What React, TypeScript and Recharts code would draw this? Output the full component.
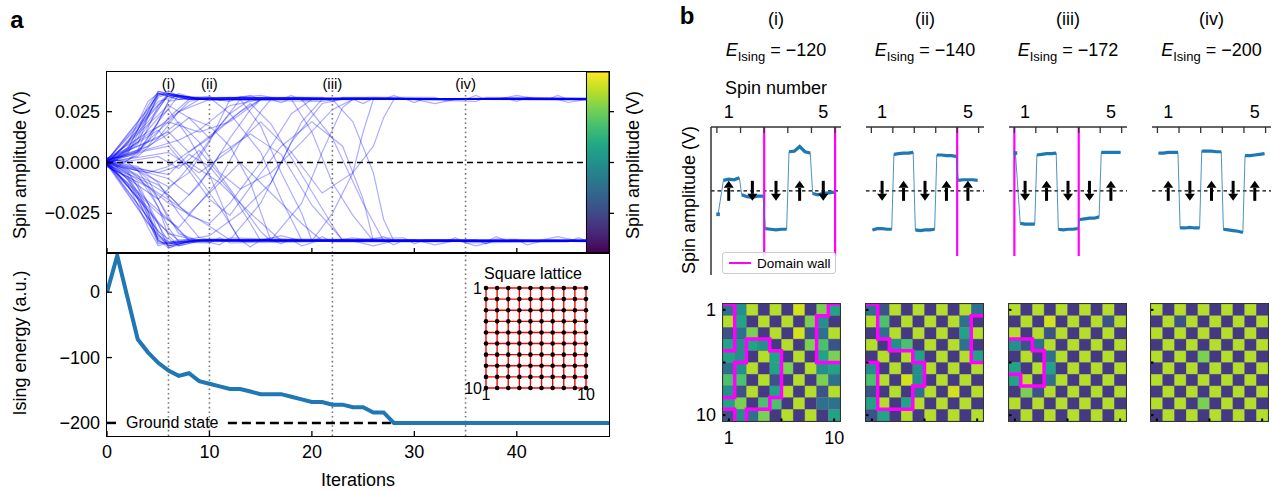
import React from 'react'
import {
  LineChart, Line, XAxis, YAxis, ReferenceLine, ReferenceArea,
  ComposedChart, Scatter, ScatterChart,
} from 'recharts'

const FONT = '"Liberation Sans", Arial, Helvetica, sans-serif'
const BLUE = '#1f77b4'
const MAGENTA = '#ff00ff'

// ---------- panel a ----------
const MARK_ITERS = [6, 10, 22, 35]
const MARK_NAMES = ['(i)', '(ii)', '(iii)', '(iv)']
const MARK_ENERGY = [-120, -140, -172, -200]

// Ising energy per iteration (0..49)
const ENERGY = [
  0, 56, -8, -72, -92, -108, -120, -128, -124, -136,
  -140, -144, -148, -148, -152, -156, -156, -156, -160, -164,
  -168, -168, -172, -172, -176, -176, -184, -184, -200, -200,
  -200, -200, -200, -200, -200, -200, -200, -200, -200, -200,
  -200, -200, -200, -200, -200, -200, -200, -200, -200, -200,
]

// spin amplitude traces, [iteration, mV] keyframes
const TRACES: number[][][] = [
  // settle up
  [[0, 1], [1, 3], [3, 12], [5, 33], [6, 35], [8, 31], [12, 32], [16, 31], [24, 31.5], [30, 31], [40, 32], [46.8, 31]],
  [[0, -1], [1, 2], [3, 9], [4, 22], [5, 34], [7, 33], [9, 31], [20, 31], [26, 32], [34, 31], [46.8, 31]],
  [[0, 2], [2, 7], [4, 25], [5, 35], [7, 32], [10, 31], [15, 33], [17, 31], [46.8, 31]],
  [[0, 0], [2, 4], [3, 14], [5, 32], [6, 34], [9, 31], [21, 30], [23, 31.5], [46.8, 31]],
  [[0, 1], [2, 1], [4, 10], [6, 30], [7, 34], [9, 31], [38, 31], [40, 33], [42, 31], [46.8, 31]],
  [[0, -2], [2, 5], [4, 18], [6, 34], [8, 32], [46.8, 31]],
  [[0, 1], [3, 5], [5, 20], [7, 33], [9, 31.5], [30, 31], [32, 29], [34, 31], [46.8, 31]],
  [[0, 0], [1, 4], [3, 16], [4, 28], [5, 35], [6, 34], [8, 31], [13, 32], [46.8, 31]],
  [[0, 2], [2, 3], [4, 8], [6, 22], [8, 31], [11, 32], [46.8, 31]],
  [[0, -1], [3, 6], [5, 28], [6, 33], [9, 31], [19, 32], [21, 31], [46.8, 31]],
  [[0, 1], [2, 9], [4, 30], [5, 34], [7, 31], [46.8, 31.5]],
  [[0, 0], [3, 3], [5, 12], [7, 25], [9, 31], [46.8, 31]],
  [[0, 1], [1, -2], [3, 4], [5, 20], [6, 30], [8, 32], [44, 31], [45, 29.5], [46.8, 31]],
  [[0, -1], [2, 6], [3, 16], [5, 34], [8, 31], [46.8, 31]],
  // settle down
  [[0, -1], [1, -3], [3, -14], [5, -38], [6, -42], [8, -38.5], [46.8, -38.5]],
  [[0, 1], [2, -4], [4, -20], [5, -35], [6, -41], [9, -38], [14, -39], [16, -37], [20, -38.5], [46.8, -38.5]],
  [[0, 0], [2, -8], [4, -28], [5, -40], [7, -39], [10, -38], [24, -38.5], [26, -41], [28, -38.5], [46.8, -38]],
  [[0, -2], [1, -5], [3, -18], [5, -39], [6, -40], [8, -38], [46.8, -38.5]],
  [[0, 1], [3, -6], [5, -22], [6, -36], [7, -41], [9, -38.5], [34, -38], [36, -41], [38, -38.5], [46.8, -38.5]],
  [[0, 0], [2, -3], [4, -12], [6, -32], [7, -39], [10, -38], [46.8, -38]],
  [[0, -1], [2, -10], [4, -32], [5, -41], [7, -38], [15, -38.5], [17, -36], [19, -38.5], [46.8, -38.5]],
  [[0, 2], [2, 0], [4, -8], [6, -28], [8, -38], [46.8, -38.5]],
  [[0, -1], [3, -10], [5, -30], [6, -42], [8, -39], [30, -38], [32, -40.5], [34, -38.5], [46.8, -38.5]],
  [[0, 1], [1, -1], [3, -4], [5, -18], [7, -35], [9, -38.5], [46.8, -38.5]],
  [[0, -1], [2, -6], [4, -24], [5, -39], [7, -40], [9, -38], [42, -38.5], [44, -36.5], [46, -38.5], [46.8, -38.5]],
  [[0, 0], [2, -5], [3, -12], [5, -36], [6, -39], [10, -38.5], [46.8, -38]],
  [[0, 1], [3, -2], [5, -10], [7, -25], [9, -37], [11, -38.5], [46.8, -38.5]],
  [[0, -2], [2, -7], [4, -26], [5, -38], [6, -41], [9, -38], [22, -38.5], [24, -37], [26, -38.5], [46.8, -38.5]],
  // wandering / flipping spins
  [[0, 1], [3, 10], [5, 22], [6, 26], [8, 12], [10, -6], [12, -30], [13, -38.5], [46.8, -38.5]],
  [[0, -1], [4, -10], [6, -16], [8, -26], [10, -30], [12, -20], [15, 0], [18, 24], [20, 31], [46.8, 31]],
  [[0, 1], [3, 6], [6, 20], [8, 30], [10, 32], [12, 24], [15, 5], [17, -18], [19, -38], [46.8, -38.5]],
  [[0, -1], [4, -5], [6, -2], [9, 9], [12, 21], [14, 29], [16, 19], [19, -6], [22, -31], [23, -38.5], [46.8, -38.5]],
  [[0, 0], [5, -11], [7, -21], [9, -11], [11, 4], [14, 14], [17, 4], [20, -21], [23, -38], [46.8, -38.5]],
  [[0, 1], [5, 8], [7, 11], [9, 16], [12, 28], [15, 31], [19, 31], [22, 12], [25, -20], [27, -38.5], [46.8, -38.5]],
  [[0, -1], [6, -28], [8, -38.5], [12, -38], [15, -20], [17, 0], [19, 20], [21, 31], [46.8, 31]],
  [[0, 0], [6, -35], [9, -38.5], [16, -38], [19, -20], [21, 5], [23, 27], [24, 31], [46.8, 31]],
  [[0, 2], [5, 12], [7, 20], [9, 10], [11, -5], [13, -13], [16, -5], [19, 10], [22, 26], [24, 31], [46.8, 31]],
  [[0, -1], [5, 28], [6, 33], [10, 31], [18, 31], [20, 15], [22, -10], [24, -26], [26, -38.5], [46.8, -38.5]],
  [[0, 1], [5, -15], [8, -25], [10, -15], [13, 0], [16, -15], [19, -30], [21, -38.5], [46.8, -38.5]],
  [[0, 0], [6, 5], [9, -5], [12, 6], [15, 20], [18, 5], [21, -15], [24, -5], [26, 8], [27, 22], [28, 31], [46.8, 31]],
  [[0, -1], [7, 25], [10, 31], [22, 31], [24, 20], [26, -5], [27, -28], [28, -38.5], [46.8, -38.5]],
  [[0, 1], [5, -30], [7, -38.5], [10, -36], [13, -25], [16, -10], [18, 10], [21, 29], [23, 31], [46.8, 31]],
  [[0, -2], [4, -12], [6, -20], [9, -28], [12, -38], [46.8, -38.5]],
  [[0, 2], [4, 15], [6, 20], [9, 15], [12, 20], [15, 31], [46.8, 31]],
  [[0, 0], [5, -5], [8, 0], [11, -10], [14, -25], [17, -38.5], [46.8, -38.5]],
  [[0, 1], [6, 15], [8, 5], [10, 12], [13, 25], [15, 31], [46.8, 31]],
  [[0, -1], [5, -25], [7, -32], [9, -20], [11, -8], [13, 10], [15, 25], [16, 31], [46.8, 31]],
  [[0, 1], [6, 34], [9, 31], [13, 31], [15, 18], [17, -5], [19, -25], [20, -38.5], [46.8, -38.5]],
  [[0, 0], [4, 6], [6, 8], [8, -4], [10, -18], [12, -26], [14, -12], [17, 8], [20, 20], [23, 8], [25, -18], [26, -38.5], [46.8, -38.5]],
  [[0, -1], [6, -40], [9, -38.5], [20, -38.5], [22, -25], [24, -5], [25, 15], [26, 31], [46.8, 31]],
  [[0, 1], [4, -4], [6, -6], [8, 4], [10, -2], [12, -14], [14, -30], [15, -38.5], [46.8, -38.5]],
  [[0, 0], [3, -4], [6, -12], [8, -5], [10, 10], [12, 31], [46.8, 31]],
  [[0, 1], [4, 8], [6, 14], [8, 22], [10, 18], [12, 8], [14, -10], [16, -38.5], [46.8, -38.5]],
  [[0, -1], [5, -18], [7, -8], [9, 4], [11, 18], [13, 31], [46.8, 31]],
  [[0, 0], [5, 16], [7, 4], [9, -8], [11, -22], [13, -38.5], [46.8, -38.5]],
  [[0, 1], [6, -8], [8, -16], [10, -4], [12, 12], [14, 26], [15, 31], [46.8, 31]],
  [[0, -1], [5, 3], [7, -3], [9, 6], [11, -6], [13, -20], [15, -34], [16, -38.5], [46.8, -38.5]],
  [[0, 0], [6, 28], [8, 22], [10, 12], [12, 24], [14, 31], [46.8, 31]],
  // band jitter
  [[0, 1], [4, 26], [5, 34], [7, 31], [10, 32.5], [11, 30.5], [14, 33], [15, 31], [27, 31], [28, 33], [29, 31], [36, 30], [37, 32], [46.8, 31.5]],
  [[0, -1], [4, -30], [6, -41], [9, -38], [11, -40.5], [12, -37], [18, -38], [19, -41], [21, -38], [29, -37], [30, -40], [31, -38], [40, -38], [41, -40.5], [43, -38], [46.8, -38.5]],
  [[0, 0], [5, -37], [6, -40], [8, -38.5], [13, -38], [14, -41.5], [15, -38], [25, -38.5], [27, -36.5], [28, -38.5], [37, -39], [38, -36.5], [39, -38.5], [46.8, -38]],
  [[0, 1], [5, 33], [6, 34], [8, 31], [17, 31], [18, 33], [19, 30.5], [24, 31], [25, 29], [26, 31.5], [43, 31], [44, 33], [45, 31], [46.8, 31]],
  [[0, 0], [4, 20], [6, 33], [9, 32], [12, 30], [13, 32], [21, 32], [22, 30], [23, 32], [32, 32], [33, 30.5], [39, 31.5], [40, 30], [41, 32], [46.8, 31.5]],
  [[0, -1], [4, -22], [6, -39], [10, -39.5], [11, -37], [12, -39.5], [20, -39], [21, -36.5], [22, -39], [33, -39], [34, -37], [35, -39.5], [45, -39], [46, -37], [46.8, -38.5]],
  [[0, 1], [5, 30], [7, 33], [10, 30.5], [16, 31], [17, 29.5], [18, 31.5], [29, 31.5], [30, 29.5], [31, 31.5], [35, 31], [36, 33], [37, 31], [46.8, 30.5]],
  [[0, 0], [5, -34], [7, -41], [10, -37.5], [16, -38], [17, -40], [18, -37.5], [27, -38], [28, -40.5], [29, -38], [36, -38], [37, -40], [38, -37.5], [46.8, -39]],
]

// ---------- panel b ----------
// first five spins (mV samples per spin) at (i)..(iv)
const SPIN_SAMPLES: number[][][] = [
  [[-18, 8, 9, 8.5, 10], [-3, -4.5, -5, -4, -4], [-29, -29.5, -30, -29.5, -29.5], [30, 30.5, 34, 30, 29], [-2, -3, -2, -1.5, -1]],
  [[-30, -29, -29, -29.5, -29.5], [28, 28.5, 29, 29, 29.5], [-30, -30.5, -30, -30, -29.5], [27.5, 27.5, 27, 27, 26.5], [8, 8.5, 8.5, 8.5, 8]],
  [[29, -25, -25.5, -25.5, -25.5], [27.5, 28, 28.5, 28.5, 29], [-29.5, -30, -29.5, -29.5, -29], [-22, -21.5, -21, -21, -20], [29.5, 29.5, 29.5, 29.5, 29.5]],
  [[29, 29, 29.5, 29.5, 29.5], [-28.5, -28.5, -28, -28.5, -28.5], [30.5, 30.5, 30.5, 30, 30], [-29.5, -30, -30.5, -31, -32], [27, 27, 27.5, 28, 28.5]],
]
// columns whose first sample is a lone outlier before the plateau
const SPIN_SPIKE = [true, false, true, false]
const SPIN_DIRS = [[1, -1, -1, 1, -1], [-1, 1, -1, 1, 1], [-1, 1, -1, -1, 1], [1, -1, 1, -1, 1]]
const SPIN_WALLS = [[2.5, 5.5], [4.5], [0.5, 3.5], []]

// 10x10 spin maps, colour level 0 (purple) .. 9 (yellow)
const HEATS = [
  ['3481819175', '8518181741', '2371819238', '5454181762', '5418518157',
    '3481571845', '6618218173', '4281581828', '5716618133', '2437181815'],
  ['3281818183', '8618181831', '1381818158', '8146181831', '1818518185',
    '4181481818', '6819418181', '2181381918', '5815818181', '2518181818'],
  ['8181818181', '1819181828', '8182818181', '4238181818', '1813818181',
    '5185181818', '5813818181', '1728181818', '8181818181', '1818181818'],
  ['8181818181', '1828181818', '8181818181', '1818181818', '8181718181',
    '1818181818', '8181818181', '1818181818', '8181718181', '1818181818'],
]
// domain walls along cell edges (0..10, row 0 at the top)
const WALLS: number[][][][] = [
  [
    [[0, 0], [1, 0], [1, 4], [0, 4]],
    [[0, 8], [1, 8], [1, 5], [2, 5], [2, 3], [4, 3], [4, 4], [5, 4], [5, 8], [4, 8], [4, 9], [2, 9], [2, 10]],
    [[0, 9], [1, 9], [1, 10]],
    [[10, 0], [9, 0], [9, 1], [8, 1], [8, 5], [10, 5]],
  ],
  [
    [[0, 0], [1, 0], [1, 3], [2, 3], [2, 4], [4, 4], [4, 5], [5, 5], [5, 7], [4, 7], [4, 9], [1, 9], [1, 5], [0, 5]],
    [[10, 1], [9, 1], [9, 5], [10, 5]],
  ],
  [[[0, 3], [2, 3], [2, 4], [3, 4], [3, 7], [1, 7], [1, 6], [0, 6]]],
  [],
]

const LATTICE_N = 10

// ---------- styling / layout ----------
const VIRIDIS = ['#440154', '#482475', '#414487', '#355f8d', '#2a788e', '#21918c', '#22a884', '#44bf70', '#7ad151', '#bddf26', '#fde725']
const PAL = ['#46085c', '#443983', '#3b528b', '#2c728e', '#21918c', '#20a486', '#4ac16d', '#7ad151', '#b5de2b', '#d2e21b']

const A_L = 107, A_R = 609, A_T = 72, A_M = 253, A_B = 436
const AMP = 0.0445
const SPIN_COLS = [[711, 841], [866, 984], [1009, 1127], [1152, 1271]]
const HEAT_X = [723, 866, 1009, 1151]
const HEAT_Y = 304
const HEAT_S = 117
const SPIN_TOP = 0.049, SPIN_BOT = -0.0646

const fmtV = (v: number) => (v < 0 ? '\u2212' : '') + Math.abs(v).toFixed(3)
const fmtE = (v: number) => (v < 0 ? '\u2212' : '') + Math.abs(v)

const txt = { fontFamily: FONT, fill: '#000' }

function LeftTick(p: any) {
  return (
    <g>
      <line x1={p.x} x2={p.x + 5} y1={p.y} y2={p.y} stroke="#000" strokeWidth={1.3} />
      <text x={p.x - 7} y={p.y} textAnchor="end" dominantBaseline="central" fontSize={18} {...txt}>{p.fmt(p.payload.value)}</text>
    </g>
  )
}
function RightTick(p: any) {
  return <line x1={p.x} x2={p.x + 5} y1={p.y} y2={p.y} stroke="#000" strokeWidth={1.3} />
}
function BottomTick(p: any) {
  return (
    <g>
      <line x1={p.x} x2={p.x} y1={p.y} y2={p.y - 5} stroke="#000" strokeWidth={1.3} />
      {p.show && (
        <text x={p.x} y={p.y + 9} textAnchor="middle" dominantBaseline="hanging" fontSize={18} {...txt}>{p.payload.value}</text>
      )}
    </g>
  )
}
function SpinTick(p: any) {
  const v = p.payload.value
  if (v % 1 !== 0) return <line x1={p.x} x2={p.x} y1={p.y} y2={p.y + 6} stroke="#333" strokeWidth={1.3} />
  if (v === 1 || v === 5) {
    return <text x={p.x} y={p.y - 9} textAnchor="middle" fontSize={18} {...txt}>{v}</text>
  }
  return <g />
}
function HeatTick(p: any) {
  const v = p.payload.value
  const lab = p.show && v !== 5.5
  if (p.side === 'left') {
    return (
      <g>
        <line x1={p.x} x2={p.x + 2.5} y1={p.y} y2={p.y} stroke="#000" strokeWidth={2} />
        {lab && <text x={p.x - 7} y={p.y} textAnchor="end" dominantBaseline="central" fontSize={18} {...txt}>{v}</text>}
      </g>
    )
  }
  return (
    <g>
      <line x1={p.x} x2={p.x} y1={p.y} y2={p.y - 2.5} stroke="#000" strokeWidth={2} />
      {lab && <text x={p.x} y={p.y + 10} textAnchor="middle" dominantBaseline="hanging" fontSize={18} {...txt}>{v}</text>}
    </g>
  )
}
function LatticeTick(p: any) {
  if (p.side === 'left') {
    return <text x={p.x - 4} y={p.y} textAnchor="end" dominantBaseline="central" fontSize={16} {...txt}>{p.payload.value}</text>
  }
  return <text x={p.x} y={p.y + 1} textAnchor="middle" dominantBaseline="hanging" fontSize={16} {...txt}>{p.payload.value}</text>
}

function Arrow(p: any) {
  const { cx, cy } = p
  const d = p.payload.dir
  const tip = cy - d * 10
  const base = tip + d * 7
  return (
    <g>
      <line x1={cx} x2={cx} y1={cy + d * 10} y2={base} stroke="#000" strokeWidth={3} />
      <polygon points={`${cx},${tip} ${cx - 5},${base} ${cx + 5},${base}`} fill="#000" />
    </g>
  )
}

const cellPx = HEAT_S / 10
function HeatCell(p: any) {
  return (
    <rect x={p.cx - cellPx / 2} y={p.cy - cellPx / 2} width={cellPx} height={cellPx}
      fill={PAL[p.payload.v]} stroke="#555" strokeOpacity={0.5} strokeWidth={0.5} />
  )
}

function Abs({ left, top, children, style }: any) {
  return <div style={{ position: 'absolute', left, top, ...style }}>{children}</div>
}
function Label({ cx, cy, size = 18, rotate = 0, bold = false, children }: any) {
  return (
    <div style={{
      position: 'absolute', left: cx, top: cy, transform: `translate(-50%, -50%) rotate(${rotate}deg)`,
      whiteSpace: 'nowrap', fontSize: size, lineHeight: 1, fontWeight: bold ? 700 : 400, color: '#000',
    }}>{children}</div>
  )
}
function Frame({ x0, y0, x1, y1, w = 1.5, color = '#000' }: any) {
  return (
    <div style={{
      position: 'absolute', left: x0 - w / 2, top: y0 - w / 2, width: x1 - x0 + w, height: y1 - y0 + w,
      border: `${w}px solid ${color}`, boxSizing: 'border-box', pointerEvents: 'none',
    }} />
  )
}

// axes are 1px thick; margins are reduced by that so the plot box stays put
function SpinTopChart() {
  const traces = TRACES.map((t) => t.map(([x, mv]) => ({ x, y: mv / 1000 })))
  return (
    <LineChart width={660} height={262} margin={{ top: A_T, left: A_L - 1, right: 660 - A_R - 1, bottom: 262 - A_M - 1 }}>
      <defs>
        <linearGradient id="viridis" x1="0" y1="1" x2="0" y2="0">
          {VIRIDIS.map((c, i) => <stop key={i} offset={i / 10} stopColor={c} />)}
        </linearGradient>
      </defs>
      <XAxis type="number" dataKey="x" domain={[0, 49]} ticks={[0, 10, 20, 30, 40]} height={1}
        axisLine={false} tickLine={false} tickSize={0} tickMargin={0} allowDataOverflow interval={0}
        tick={(p: any) => <BottomTick {...p} show={false} />} />
      <YAxis type="number" domain={[-AMP, AMP]} ticks={[-0.025, 0, 0.025]} width={1} allowDataOverflow interval={0}
        axisLine={false} tickLine={false} tickSize={0} tickMargin={0}
        tick={(p: any) => <LeftTick {...p} fmt={fmtV} />} />
      <YAxis yAxisId="cb" orientation="right" type="number" domain={[-AMP, AMP]} ticks={[-0.025, 0, 0.025]} width={1}
        allowDataOverflow interval={0} axisLine={false} tickLine={false} tickSize={0} tickMargin={0}
        tick={(p: any) => <RightTick {...p} />} />
      {traces.map((d, i) => (
        <Line key={i} data={d} dataKey="y" type="linear" stroke="#0000ff" strokeOpacity={0.32} strokeWidth={1.2}
          dot={false} isAnimationActive={false} />
      ))}
      <ReferenceLine segment={[{ x: 0, y: 0 }, { x: 46.8, y: 0 }]} stroke="#000" strokeWidth={1.6} strokeDasharray="6 4" />
      {MARK_ITERS.map((it) => (
        <ReferenceLine key={it} segment={[{ x: it, y: 0.0355 }, { x: it, y: -AMP }]} stroke="#777" strokeWidth={1.6} strokeDasharray="1.6 3" />
      ))}
      <ReferenceArea x1={46.8} x2={49} y1={-AMP} y2={AMP} fill="url(#viridis)" fillOpacity={1} stroke="#000" strokeWidth={1} />
    </LineChart>
  )
}

function EnergyChart() {
  const rows = ENERGY.map((e, i) => ({ x: i, e }))
  return (
    <LineChart width={660} height={251} data={rows} margin={{ top: A_M - 240, left: A_L - 1, right: 660 - A_R, bottom: 251 - (A_B - 240) - 1 }}>
      <XAxis type="number" dataKey="x" domain={[0, 49]} ticks={[0, 10, 20, 30, 40]} height={1}
        axisLine={false} tickLine={false} tickSize={0} tickMargin={0} allowDataOverflow interval={0}
        tick={(p: any) => <BottomTick {...p} show />} />
      <YAxis type="number" domain={[-220, 60]} ticks={[-200, -100, 0]} width={1} allowDataOverflow interval={0}
        axisLine={false} tickLine={false} tickSize={0} tickMargin={0}
        tick={(p: any) => <LeftTick {...p} fmt={fmtE} />} />
      {MARK_ITERS.map((it) => (
        <ReferenceLine key={it} x={it} stroke="#777" strokeWidth={1.6} strokeDasharray="1.6 3" />
      ))}
      <ReferenceLine segment={[{ x: 0, y: -200 }, { x: 1.1, y: -200 }]} stroke="#000" strokeWidth={2.5} strokeDasharray="9 5" />
      <ReferenceLine segment={[{ x: 11.8, y: -200 }, { x: 27.8, y: -200 }]} stroke="#000" strokeWidth={2.5} strokeDasharray="9 5" />
      <Line dataKey="e" type="linear" stroke={BLUE} strokeWidth={4} dot={false} isAnimationActive={false} />
    </LineChart>
  )
}

function LatticeInset() {
  const idx = Array.from({ length: LATTICE_N }, (_, i) => i + 1)
  const nodes = idx.flatMap((r) => idx.map((c) => ({ x: c, y: r })))
  return (
    <ScatterChart width={170} height={160} margin={{ left: 45, right: 24, top: 28, bottom: 31 }}>
      <XAxis type="number" dataKey="x" domain={[1, 10]} ticks={[1, 10]} height={1} axisLine={false} tickLine={false}
        tickSize={0} tickMargin={0} interval={0} tick={(p: any) => <LatticeTick {...p} side="bottom" />} />
      <YAxis type="number" dataKey="y" domain={[1, 10]} ticks={[1, 10]} reversed width={1} axisLine={false} tickLine={false}
        tickSize={0} tickMargin={0} interval={0} tick={(p: any) => <LatticeTick {...p} side="left" />} />
      {idx.map((k) => <ReferenceLine key={'v' + k} x={k} stroke="#ff0000" strokeWidth={1.4} />)}
      {idx.map((k) => <ReferenceLine key={'h' + k} y={k} stroke="#ff0000" strokeWidth={1.4} />)}
      <Scatter data={nodes} fill="#000" isAnimationActive={false}
        shape={(p: any) => <circle cx={p.cx} cy={p.cy} r={2.3} fill="#000" />} />
    </ScatterChart>
  )
}

function SpinPanel({ k }: { k: number }) {
  const [x0, x1] = SPIN_COLS[k]
  const rows: any[] = []
  const spikes: any[] = []
  SPIN_SAMPLES[k].forEach((samples, i) => {
    const n = i + 1
    samples.forEach((mv, j) => {
      const x = n - 0.45 + j * 0.225
      const lone = SPIN_SPIKE[k] && i === 0 && j === 0
      rows.push({ x, thin: mv / 1000, thick: lone ? null : mv / 1000 })
      if (lone) spikes.push({ x, y: mv / 1000 })
    })
    rows.push({ x: n + 0.5, thin: null, thick: null })
  })
  const arrows = SPIN_DIRS[k].map((dir, i) => ({ x: i + 1, y: 0, dir }))
  return (
    <ComposedChart width={x1 - x0 + 24} height={190} margin={{ top: 31, bottom: 10, left: 11, right: 12 }}>
      <XAxis type="number" dataKey="x" orientation="top" domain={[0.25, 5.75]} height={1} allowDataOverflow interval={0}
        ticks={[0.5, 1, 1.5, 2, 2.5, 3, 3.5, 4, 4.5, 5, 5.5]} tickSize={0} tickMargin={0} tickLine={false}
        axisLine={{ stroke: '#333', strokeWidth: 1.5 }} tick={(p: any) => <SpinTick {...p} />} />
      <YAxis type="number" domain={[SPIN_BOT, SPIN_TOP]} width={1} allowDataOverflow
        axisLine={k === 0 ? { stroke: '#333', strokeWidth: 1.5 } : false} tick={false} tickLine={false} />
      <ReferenceLine y={0} stroke="#000" strokeWidth={1.3} strokeDasharray="3.5 3" />
      {SPIN_WALLS[k].map((w) => (
        <ReferenceLine key={w} segment={[{ x: w, y: SPIN_TOP - 0.0002 }, { x: w, y: -0.05 }]} stroke={MAGENTA} strokeWidth={2.2} />
      ))}
      <Line data={rows} dataKey="thin" type="linear" connectNulls stroke={BLUE} strokeOpacity={0.8} strokeWidth={1}
        dot={false} isAnimationActive={false} />
      <Line data={rows} dataKey="thick" type="linear" stroke={BLUE} strokeWidth={3.2} dot={false} isAnimationActive={false} />
      <Scatter data={spikes} dataKey="y" fill={BLUE} isAnimationActive={false}
        shape={(p: any) => <rect x={p.cx - 1.8} y={p.cy - 1.8} width={3.6} height={3.6} fill={BLUE} />} />
      <Scatter data={arrows} dataKey="y" fill="#000" shape={(p: any) => <Arrow {...p} />} isAnimationActive={false} />
    </ComposedChart>
  )
}

function HeatPanel({ k }: { k: number }) {
  const cells = HEATS[k].flatMap((row, r) => row.split('').map((ch, c) => ({ x: c + 1, y: r + 1, v: Number(ch) })))
  return (
    <ScatterChart width={HEAT_S + 44} height={180} margin={{ left: 31, right: 12, top: 24, bottom: 180 - 24 - HEAT_S - 1 }}>
      <XAxis type="number" dataKey="x" domain={[0.5, 10.5]} ticks={[1, 5.5, 10]} height={1} allowDataOverflow interval={0}
        axisLine={false} tickLine={false} tickSize={0} tickMargin={0}
        tick={(p: any) => <HeatTick {...p} side="bottom" show={k === 0} />} />
      <YAxis type="number" dataKey="y" domain={[0.5, 10.5]} ticks={[1, 5.5, 10]} reversed width={1} allowDataOverflow interval={0}
        axisLine={false} tickLine={false} tickSize={0} tickMargin={0}
        tick={(p: any) => <HeatTick {...p} side="left" show={k === 0} />} />
      <Scatter data={cells} shape={(p: any) => <HeatCell {...p} />} isAnimationActive={false} />
      {WALLS[k].map((w, i) => (
        <Scatter key={i} data={w.map(([ex, ey]) => ({ x: ex + 0.5, y: ey + 0.5 }))} fill={MAGENTA}
          line={{ stroke: MAGENTA, strokeWidth: 3.5 }} shape={() => <g />} isAnimationActive={false} />
      ))}
    </ScatterChart>
  )
}

export default function App() {
  const iterX = (it: number) => A_L + (it * (A_R - A_L)) / 49
  return (
    <div style={{ position: 'absolute', left: 0, top: 0, width: 1272, height: 491, overflow: 'hidden', background: '#fff', fontFamily: FONT }}>
      <Abs left={0} top={0}><SpinTopChart /></Abs>
      <Abs left={0} top={240}><EnergyChart /></Abs>
      <Abs left={440} top={260}><LatticeInset /></Abs>
      <Frame x0={A_L} y0={A_T} x1={A_R} y1={A_M} />
      <Frame x0={A_L} y0={A_M} x1={A_R} y1={A_B} />

      <Label cx={17} cy={20} size={24} bold>a</Label>
      <Label cx={20} cy={165} rotate={-90}>Spin amplitude (V)</Label>
      <Label cx={20} cy={343} rotate={-90}>Ising energy (a.u.)</Label>
      <Label cx={633} cy={165} rotate={-90}>Spin amplitude (V)</Label>
      <Label cx={358} cy={480}>Iterations</Label>
      <Label cx={533} cy={274} size={16}>Square lattice</Label>
      <div style={{ position: 'absolute', left: 126, top: 423, transform: 'translateY(-50%)', fontSize: 16, lineHeight: 1 }}>Ground state</div>
      {MARK_ITERS.map((it, i) => (
        <Label key={it} cx={iterX(it)} cy={83} size={15}>{MARK_NAMES[i]}</Label>
      ))}

      {SPIN_COLS.map((c, k) => (
        <Abs key={'s' + k} left={c[0] - 12} top={95}><SpinPanel k={k} /></Abs>
      ))}
      {HEAT_X.map((hx, k) => (
        <Abs key={'h' + k} left={hx - 32} top={HEAT_Y - 24}><HeatPanel k={k} /></Abs>
      ))}
      {HEAT_X.map((hx, k) => (
        <Frame key={'f' + k} x0={hx} y0={HEAT_Y} x1={hx + HEAT_S} y1={HEAT_Y + HEAT_S} w={1.2} color="#333" />
      ))}

      <Label cx={687} cy={16} size={24} bold>b</Label>
      <Label cx={689} cy={200} rotate={-90}>Spin amplitude (V)</Label>
      <Label cx={776} cy={88}>Spin number</Label>
      {SPIN_COLS.map((c, k) => (
        <React.Fragment key={'t' + k}>
          <Label cx={(c[0] + c[1]) / 2} cy={19}>{MARK_NAMES[k]}</Label>
          <Label cx={(c[0] + c[1]) / 2} cy={50}>
            <i>E</i><span style={{ fontSize: 13, position: 'relative', top: 5 }}>Ising</span> = {fmtE(MARK_ENERGY[k])}
          </Label>
        </React.Fragment>
      ))}
      <div style={{
        position: 'absolute', left: 722, top: 252, width: 114, height: 22, boxSizing: 'border-box',
        border: '1px solid #ccc', borderRadius: 3, background: 'rgba(255,255,255,0.85)',
        display: 'flex', alignItems: 'center', fontSize: 13.5,
      }}>
        <div style={{ width: 22, height: 2, background: MAGENTA, margin: '0 6px 0 6px' }} />
        Domain wall
      </div>
    </div>
  )
}
